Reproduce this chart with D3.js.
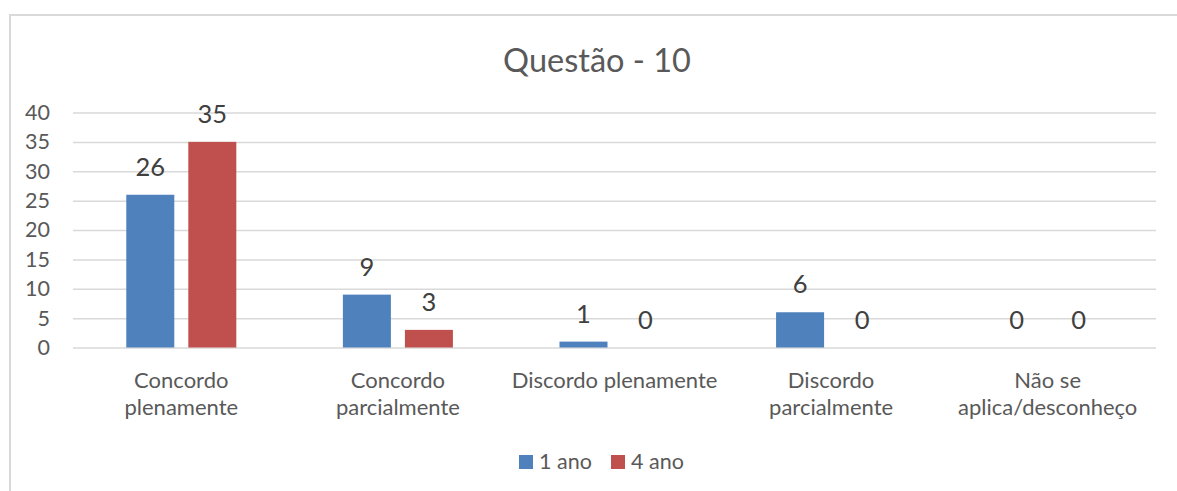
<!DOCTYPE html>
<html>
<head>
<meta charset="utf-8">
<script src="https://cdn.jsdelivr.net/npm/d3@7"></script>
<style>
  html, body { margin: 0; padding: 0; background: #fff; overflow: hidden; }
  svg { display: block; font-family: Lato, "Open Sans", sans-serif; }
</style>
</head>
<body>
<svg id="chart" width="1177" height="491"></svg>
<script>
// Survey answers, question 10
const categories = ["Concordo plenamente", "Concordo parcialmente", "Discordo plenamente", "Discordo parcialmente", "Não se aplica/desconheço"];
const categoryLines = [["Concordo", "plenamente"], ["Concordo", "parcialmente"], ["Discordo plenamente"], ["Discordo", "parcialmente"], ["Não se", "aplica/desconheço"]];
const seriesNames = ["1 ano", "4 ano"];
const values1ano = [26, 9, 1, 6, 0];
const values4ano = [35, 3, 0, 0, 0];
const yTicks = [0, 5, 10, 15, 20, 25, 30, 35, 40];
const title = "Questão - 10";

const colors = { "1 ano": "#4f81bd", "4 ano": "#c0504d" };
const textColor = "#595959";
const gridColor = "#d9d9d9";

const svg = d3.select("#chart");

// chart frame: only the top and left edges fall inside the view
svg.append("path")
  .attr("d", "M10,491 L10,15 L1177,15")
  .attr("fill", "none")
  .attr("stroke", gridColor).attr("stroke-width", 2);

const plot = { left: 73, right: 1156, top: 112.5, bottom: 347.5 };

const x0 = d3.scaleBand().domain(categories).range([plot.left, plot.right]).padding(0);
const groupW = x0.bandwidth() * 0.508;
const groupOff = (x0.bandwidth() - groupW) / 2;
const x1 = d3.scaleBand().domain(seriesNames).range([groupOff, groupOff + groupW]).paddingInner(0.226).paddingOuter(0);
const y = d3.scaleLinear().domain([0, 40]).range([plot.bottom, plot.top]);

// gridlines + y tick labels
const yAxis = d3.axisLeft(y).tickValues(yTicks).tickSize(-(plot.right - plot.left)).tickPadding(23).tickFormat(d3.format("d"));
const gy = svg.append("g").attr("transform", `translate(${plot.left},0)`).call(yAxis);
gy.select(".domain").remove();
gy.selectAll(".tick line").attr("stroke", gridColor).attr("stroke-width", 1.5);
gy.selectAll(".tick text")
  .attr("fill", textColor)
  .attr("font-size", 21.5)
  .attr("font-family", "Lato, sans-serif");

// bars
const rows = categories.map((c, i) => ({ cat: c, vals: [
  { key: "1 ano", v: values1ano[i] },
  { key: "4 ano", v: values4ano[i] }
] }));

const groups = svg.append("g").selectAll("g").data(rows).join("g")
  .attr("transform", d => `translate(${x0(d.cat)},0)`);

groups.selectAll("rect").data(d => d.vals).join("rect")
  .attr("x", d => x1(d.key))
  .attr("width", x1.bandwidth())
  .attr("y", d => y(d.v))
  .attr("height", d => y(0) - y(d.v))
  .attr("fill", d => colors[d.key]);

// value labels
groups.selectAll("text.val").data(d => d.vals).join("text")
  .attr("class", "val")
  .attr("x", d => x1(d.key) + x1.bandwidth() / 2)
  .attr("y", d => y(d.v) - 19)
  .attr("text-anchor", "middle")
  .attr("font-size", 25.5)
  .attr("fill", "#404040")
  .text(d => d.v);

// category labels
const cl = svg.append("g").selectAll("text").data(categories).join("text")
  .attr("x", d => x0(d) + x0.bandwidth() / 2)
  .attr("y", 388)
  .attr("text-anchor", "middle")
  .attr("font-size", 22)
  .attr("fill", textColor);
cl.each(function(d, i) {
  d3.select(this).selectAll("tspan").data(categoryLines[i]).join("tspan")
    .attr("x", x0(d) + x0.bandwidth() / 2)
    .attr("dy", (t, j) => j === 0 ? 0 : 27)
    .text(t => t);
});

// title
svg.append("text")
  .attr("x", 597).attr("y", 72)
  .attr("text-anchor", "middle")
  .attr("font-size", 32.5)
  .attr("fill", textColor)
  .text(title);

// legend
const legend = svg.append("g");
const legendItems = [{ name: seriesNames[0], x: 519 }, { name: seriesNames[1], x: 611 }];
const li = legend.selectAll("g").data(legendItems).join("g")
  .attr("transform", d => `translate(${d.x},455)`);
li.append("rect").attr("width", 14).attr("height", 14).attr("fill", d => colors[d.name]);
li.append("text")
  .attr("x", 20).attr("y", 14)
  .attr("font-size", 21.5)
  .attr("fill", textColor)
  .text(d => d.name);
</script>
</body>
</html>
